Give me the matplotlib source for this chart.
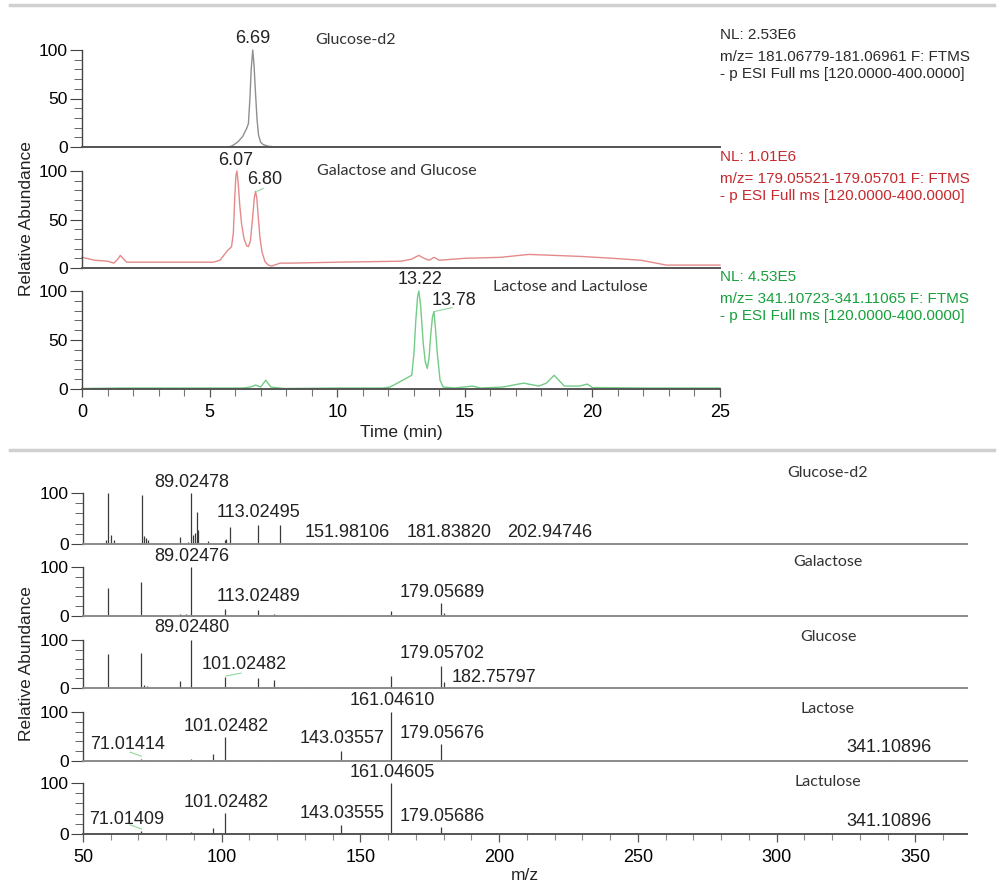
import matplotlib
matplotlib.use('Agg')
import matplotlib.pyplot as plt
from matplotlib.lines import Line2D
from matplotlib.ticker import MultipleLocator

# ---- chromatograms (time in min, relative abundance) ----
t_d2 = [0, 5.75, 5.9, 6.1, 6.3, 6.45, 6.52, 6.58, 6.63, 6.69, 6.74, 6.8, 6.86, 6.92,
        7.0, 7.1, 7.3, 7.6, 25]
y_d2 = [0, 0, 1.5, 5, 11, 19, 24, 50, 80, 100, 85, 55, 28, 12,
        5, 2.5, 0.8, 0, 0]

t_gal = [0, 0.5, 1.0, 1.25, 1.4, 1.5, 1.6, 1.75, 2.5, 4.0, 5.15, 5.41, 5.67, 5.86, 5.93,
         5.99, 6.03, 6.07, 6.12, 6.18, 6.25, 6.35, 6.45, 6.52, 6.6, 6.69, 6.75, 6.8,
         6.85, 6.9, 6.97, 7.05, 7.17, 7.3, 7.43, 7.6, 7.76, 8.15,
         10, 12.5, 12.9, 13.2, 13.4, 13.6, 13.8, 14.0, 15.0, 16.4, 17.5, 18.5, 19.5,
         20.8, 21.9, 22.5, 22.9, 25]
y_gal = [11, 8, 7, 5, 9, 13, 10, 6, 6, 6, 6, 8, 17, 22, 36,
         75, 95, 100, 88, 65, 46, 30, 23, 22, 28, 53, 72, 79,
         72, 55, 32, 17, 6.5, 3, 2, 3.5, 5, 5,
         6, 7, 9, 13, 10, 8, 11, 8, 10, 11, 14, 13, 12,
         10, 8, 5, 3, 3]

t_lac = [0, 1.5, 3, 6.3, 6.6, 6.8, 7.0, 7.2, 7.4, 7.9, 10, 11.8, 12.07, 12.5, 12.92, 13.01,
         13.08, 13.15, 13.2, 13.27, 13.37, 13.45, 13.53, 13.6, 13.66, 13.73, 13.79, 13.85,
         13.92, 14.03, 14.15, 14.6, 15.3, 15.6,
         16.5, 17.3, 17.9, 18.2, 18.5, 18.9, 19.5, 19.8, 20.0, 22, 25]
y_lac = [0.5, 1, 1, 1, 2, 4, 2, 9, 2, 0.5, 1, 1, 2, 8, 14, 37,
         70, 94, 100, 85, 47, 28, 21, 32, 54, 73, 79, 62,
         37, 9, 2, 1, 3, 1,
         2, 6, 3, 6, 14, 3, 3, 5, 1.5, 1, 1]

chrom_t = [t_d2, t_gal, t_lac]
chrom_y = [y_d2, y_gal, y_lac]
chrom_colors = ['#8f8f8f', '#e58a8a', '#72cc84']
chrom_names = ['Glucose-d2', 'Galactose and Glucose', 'Lactose and Lactulose']
chrom_name_pos = [(9.13, 110), (9.2, 100), (16.1, 104)]
chrom_peaks = [[('6.69', 6.7, 112)],
               [('6.07', 6.03, 111), ('6.80', 7.17, 91)],
               [('13.22', 13.25, 112), ('13.78', 14.56, 90)]]
chrom_leaders = [[], [((6.85, 7.1), (79, 82))], [((13.8, 14.5), (79, 83))]]

nl_lines = [['NL: 2.53E6', 'm/z= 181.06779-181.06961 F: FTMS', '- p ESI Full ms [120.0000-400.0000]'],
            ['NL: 1.01E6', 'm/z= 179.05521-179.05701 F: FTMS', '- p ESI Full ms [120.0000-400.0000]'],
            ['NL: 4.53E5', 'm/z= 341.10723-341.11065 F: FTMS', '- p ESI Full ms [120.0000-400.0000]']]
nl_colors = ['#2a2a2a', '#c42a2e', '#18a03c']

# ---- MS spectra (m/z, relative intensity) ----
mz_d2 = [58.3, 59.0, 60.0, 61.0, 71.1, 72.0, 72.7, 73.3, 85.0, 88.0, 89.0, 89.6, 90.2,
         91.0, 91.5, 95.0, 101.0, 101.6, 103.0, 113.0, 121.0]
in_d2 = [8, 100, 18, 8, 97, 16, 12, 8, 14, 4, 100, 18, 22, 62, 28, 6, 7, 10, 33, 37, 37]
mz_galac = [59, 71, 72.5, 85, 87, 89, 89.5, 95, 101, 113, 119, 131, 143, 161, 179, 180]
in_galac = [57, 69, 3, 5, 4, 100, 3, 2, 15, 12, 4, 2, 2, 10, 27, 6]
mz_gluc = [59, 71, 72, 73, 85, 89, 95, 101, 113, 119, 131, 143, 161, 179, 180]
in_gluc = [71, 73, 6, 4, 15, 100, 2, 23, 21, 17, 3, 2, 25, 46, 12]
mz_lact = [59, 71, 73, 85, 89, 97, 101, 113, 119, 143, 161, 179, 341]
in_lact = [1, 5, 3, 2, 5, 14, 49, 2, 2, 20, 100, 35, 2]
mz_lactu = [71, 89, 97, 101, 113, 143, 161, 179, 341]
in_lactu = [5, 4, 12, 41, 2, 18, 100, 14, 2]

spec_mz = [mz_d2, mz_galac, mz_gluc, mz_lact, mz_lactu]
spec_in = [in_d2, in_galac, in_gluc, in_lact, in_lactu]
spec_names = ['Glucose-d2', 'Galactose', 'Glucose', 'Lactose', 'Lactulose']
spec_name_y = [139, 110, 106, 106, 102]
spec_labels = [
    [('89.02478', 89.2, 120), ('113.02495', 113.3, 61), ('151.98106', 145.1, 22),
     ('181.83820', 181.9, 22), ('202.94746', 218.3, 22)],
    [('89.02476', 89.2, 122), ('113.02489', 113.3, 39), ('179.05689', 179.4, 47)],
    [('89.02480', 89.2, 125), ('101.02482', 108.0, 48), ('179.05702', 179.4, 71),
     ('182.75797', 198.1, 21)],
    [('71.01414', 65.9, 33), ('101.02482', 101.5, 71), ('143.03557', 143.3, 45),
     ('161.04610', 161.4, 124), ('179.05676', 179.4, 57), ('341.10896', 340.5, 27)],
    [('71.01409', 65.9, 29), ('101.02482', 101.5, 61), ('143.03555', 143.3, 41),
     ('161.04605', 161.4, 120), ('179.05686', 179.4, 35), ('341.10896', 340.5, 25)],
]
spec_leaders = [[], [], [((101.5, 107), (25, 31))],
                [((67, 71), (18, 10))], [((67, 71), (18, 10))]]

NUM = 'Liberation Sans'
NAME = 'Lato'
W, H = 1003, 885
fig = plt.figure(figsize=(W / 100, H / 100), dpi=100)


def px_axes(left, right, y0, y100):
    return fig.add_axes([left / W, 1 - y0 / H, (right - left) / W, (y0 - y100) / H])


def style(ax, spine_col):
    for s in ['top', 'right']:
        ax.spines[s].set_visible(False)
    ax.spines['left'].set_color('#444444')
    ax.spines['bottom'].set_color(spine_col)
    ax.spines['left'].set_linewidth(1.0)
    ax.spines['bottom'].set_linewidth(1.4)
    ax.patch.set_alpha(0)
    ax.tick_params(axis='y', which='major', length=8.5, width=0.8, color='#444444',
                   labelsize=12.5, pad=1.5)
    ax.tick_params(axis='y', which='minor', length=5.5, width=0.7, color='#666666')
    for lb in ax.get_yticklabels():
        lb.set_fontfamily(NUM)


# separators
fig.add_artist(Line2D([10 / W, 994 / W], [1 - 5 / H, 1 - 5 / H], color='#d0d0d0', lw=2.5))
fig.add_artist(Line2D([10 / W, 994 / W], [1 - 450 / H, 1 - 450 / H], color='#d0d0d0', lw=2.5))

# ---- top: chromatograms ----
chrom_zero = [147, 268, 389]
chrom_top = [50, 171, 291]
for i in range(3):
    ax = px_axes(82, 720, chrom_zero[i], chrom_top[i])
    ax.plot(chrom_t[i], chrom_y[i], color=chrom_colors[i], lw=1.0, clip_on=False)
    ax.set_xlim(0, 25)
    ax.set_ylim(0, 100)
    ax.set_yticks([0, 50, 100])
    ax.yaxis.set_minor_locator(MultipleLocator(10))
    style(ax, '#555555')
    ax.spines['left'].set_bounds(0, 100)
    if i < 2:
        ax.tick_params(axis='x', which='both', length=0, labelbottom=False)
    else:
        ax.set_xticks([0, 5, 10, 15, 20, 25])
        ax.xaxis.set_minor_locator(MultipleLocator(1))
        ax.tick_params(axis='x', which='major', length=6, width=0.9, color='#555555',
                       labelsize=13, pad=5)
        ax.tick_params(axis='x', which='minor', length=5, width=0.8, color='#777777')
        for lb in ax.get_xticklabels():
            lb.set_fontfamily(NUM)
    for txt, x, y in chrom_peaks[i]:
        ax.text(x, y, txt, ha='center', va='center', fontsize=13, family=NUM, color='#222222')
    for xs, ys in chrom_leaders[i]:
        ax.plot(xs, ys, color='#8fd89a', lw=0.8, clip_on=False)
    ax.text(chrom_name_pos[i][0], chrom_name_pos[i][1], chrom_names[i], ha='left',
            va='center', fontsize=11.5, family=NAME, color='#333333')
    for j, line in enumerate(nl_lines[i]):
        yy = [35, 57, 74][j] + [0, 122, 242][i]
        fig.text(720 / W, 1 - yy / H, line, ha='left', va='center', fontsize=11,
                 family=NUM, color=nl_colors[i])

fig.text(401 / W, 1 - 433 / H, 'Time (min)', ha='center', va='center', fontsize=12.5,
         family=NUM, color='#222222')
fig.text(27 / W, 1 - 219 / H, 'Relative Abundance', ha='center', va='center',
         rotation=90, fontsize=12.5, family=NUM, color='#222222')

# ---- bottom: MS spectra ----
spec_zero = [544, 616, 688, 761, 834]
spec_top = [493, 567, 640, 712, 783]
for i in range(5):
    ax = px_axes(83, 967, spec_zero[i], spec_top[i])
    ax.vlines(spec_mz[i], 0, spec_in[i], color='#3a3a3a', lw=0.9, clip_on=False)
    ax.set_xlim(50, 368.6)
    ax.set_ylim(0, 100)
    ax.set_yticks([0, 100])
    ax.yaxis.set_minor_locator(MultipleLocator(20))
    style(ax, '#8a8a8a')
    if i < 4:
        ax.tick_params(axis='x', which='both', length=0, labelbottom=False)
    else:
        ax.spines['bottom'].set_color('#555555')
        ax.set_xticks([50, 100, 150, 200, 250, 300, 350])
        ax.xaxis.set_minor_locator(MultipleLocator(10))
        ax.tick_params(axis='x', which='major', length=6, width=0.9, color='#555555',
                       labelsize=13, pad=5)
        ax.tick_params(axis='x', which='minor', length=4.5, width=0.8, color='#888888')
        for lb in ax.get_xticklabels():
            lb.set_fontfamily(NUM)
    for txt, x, y in spec_labels[i]:
        ax.text(x, y, txt, ha='center', va='center', fontsize=13, family=NUM, color='#222222')
    for xs, ys in spec_leaders[i]:
        ax.plot(xs, ys, color='#8fd89a', lw=0.8, clip_on=False)
    ax.text(318.5, spec_name_y[i], spec_names[i], ha='center', va='center',
            fontsize=11.5, family=NAME, color='#333333')

fig.text(525 / W, 1 - 875 / H, 'm/z', ha='center', va='center', fontsize=12.5,
         family=NUM, color='#222222')
fig.text(27 / W, 1 - 664 / H, 'Relative Abundance', ha='center', va='center',
         rotation=90, fontsize=12.5, family=NUM, color='#222222')

fig.savefig('out.png', dpi=100)
